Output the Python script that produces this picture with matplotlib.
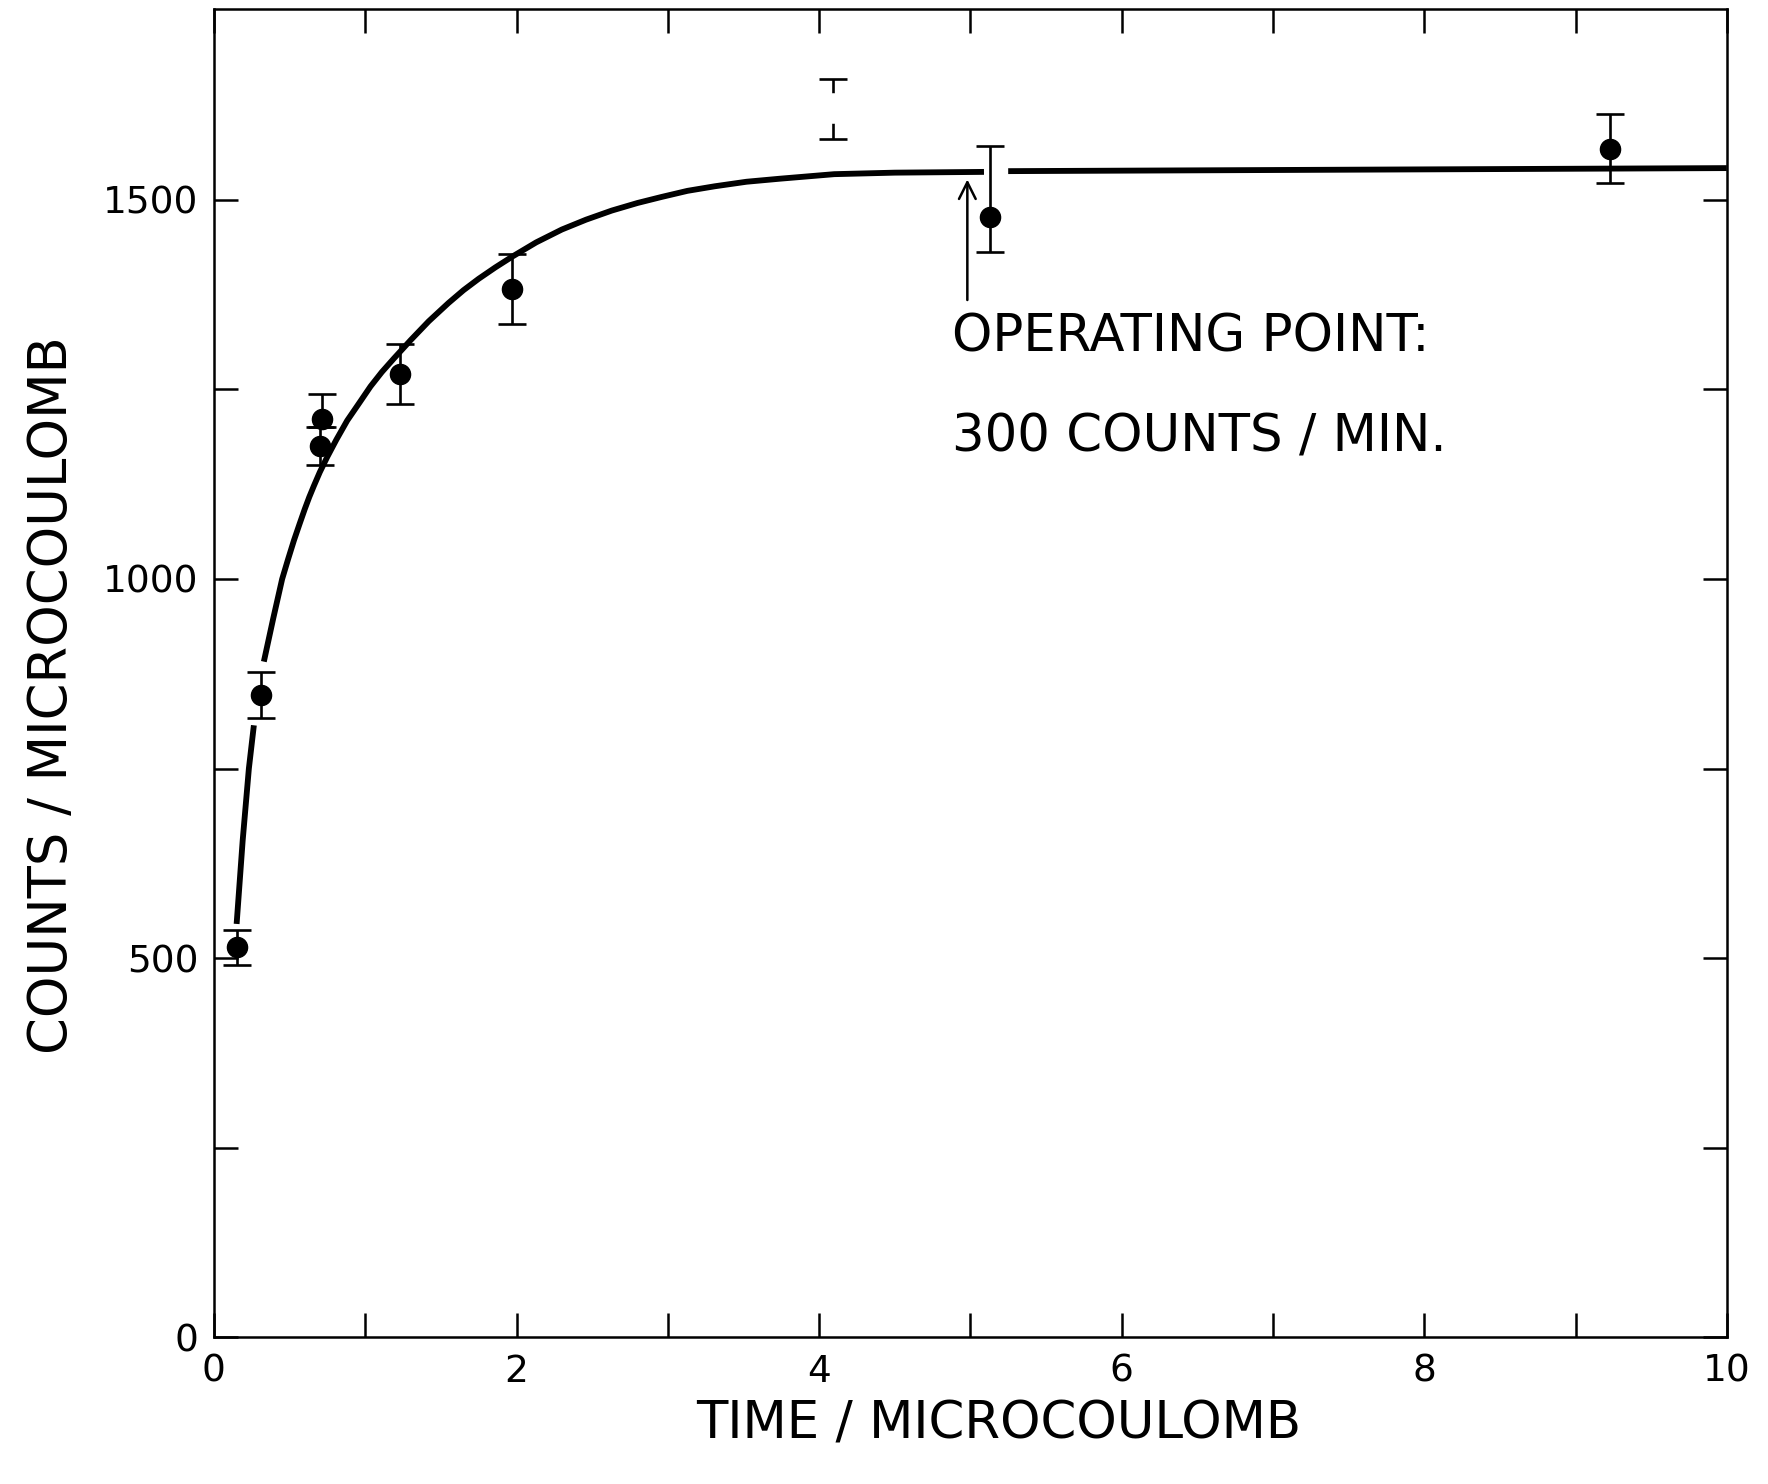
import numpy as np
import matplotlib
matplotlib.use("Agg")
import matplotlib.pyplot as plt

# ---- data ----
pt_x = [0.15, 0.31, 0.715, 0.70, 1.23, 1.97, 5.13, 9.23]
pt_y = [515, 847, 1211, 1176, 1270, 1382, 1477, 1567]
pt_lo = [491, 816, 1200, 1150, 1231, 1336, 1431, 1523]
pt_hi = [537, 877, 1244, 1200, 1310, 1429, 1571, 1614]

# error bar whose dot is missing in the print
nd_x = [4.09]
nd_y = [1621]
nd_lo = [1580]
nd_hi = [1660]

curve_x = [0.15, 0.19, 0.231, 0.264, np.nan, 0.33, 0.392, 0.451, 0.49, 0.529, 0.565,
           0.60, 0.63, 0.661, 0.70, 0.749, 0.81, 0.881, 0.96, 1.035, 1.11, 1.19,
           1.30, 1.42, 1.55, 1.65, 1.75, 1.86, 1.97, 2.13, 2.30, 2.46, 2.63,
           2.80, 2.96, 3.13, 3.31, 3.52, 3.74, 3.92, 4.10, 4.50, 5.09,
           np.nan, 5.25, 10.0]
curve_y = [545, 655, 750, 807, np.nan, 891, 948, 1000, 1026, 1051, 1072,
           1092, 1108, 1123, 1141, 1161, 1184, 1209, 1232, 1254, 1273, 1291,
           1315, 1340, 1364, 1381, 1396, 1411, 1425, 1444, 1461, 1474, 1486,
           1496, 1504, 1512, 1518, 1524, 1528, 1531, 1534, 1536, 1537,
           np.nan, 1538, 1542]

x_ticks = list(range(0, 11))
x_labels = ["0", "", "2", "", "4", "", "6", "", "8", "", "10"]
y_ticks = [0, 250, 500, 750, 1000, 1250, 1500]
y_labels = ["0", "", "500", "", "1000", "", "1500"]

arrow_x = 4.98
arrow_from = 1368
arrow_to = 1527

# ---- figure ----
plt.rcParams['font.family'] = ['DejaVu Sans']
fig = plt.figure(figsize=(17.68, 14.84), dpi=100)
ax = fig.add_axes([0.121, 0.099, 0.8557, 0.895])

ax.plot(curve_x, curve_y, color='black', lw=4.2, solid_capstyle='butt',
        solid_joinstyle='round', zorder=2)

yerr = [np.array(pt_y) - np.array(pt_lo), np.array(pt_hi) - np.array(pt_y)]
ax.errorbar(pt_x, pt_y, yerr=yerr, fmt='o', color='black', ms=14.5,
            elinewidth=1.9, capsize=10, capthick=1.9, zorder=3)

nd_err = [np.array(nd_y) - np.array(nd_lo), np.array(nd_hi) - np.array(nd_y)]
ax.errorbar(nd_x, nd_y, yerr=nd_err, fmt='none', ecolor='black',
            elinewidth=1.9, capsize=10, capthick=1.9, zorder=3)
ax.plot(nd_x, nd_y, 'o', ms=21, mfc='white', mec='white', zorder=4)

ax.annotate("", xy=(arrow_x, arrow_to), xytext=(arrow_x, arrow_from),
            arrowprops=dict(arrowstyle='->', lw=1.8, color='black',
                            mutation_scale=30, shrinkA=0, shrinkB=0))
ax.text(4.88, 1319, "OPERATING POINT:", fontsize=37, va='center', ha='left')
ax.text(4.88, 1187, "300 COUNTS / MIN.", fontsize=37, va='center', ha='left')

ax.set_xlim(0, 10)
ax.set_ylim(0, 1752)
ax.set_xticks(x_ticks)
ax.set_xticklabels(x_labels)
ax.set_yticks(y_ticks)
ax.set_yticklabels(y_labels)
ax.tick_params(direction='in', length=17, width=1.8, labelsize=27,
               top=True, right=True)
ax.tick_params(axis='x', pad=12)
ax.tick_params(axis='y', pad=11)

for s in ax.spines.values():
    s.set_linewidth(1.8)

ax.text(-0.107, 0.483, "COUNTS / MICROCOULOMB", rotation=90, fontsize=38,
        ha='center', va='center', transform=ax.transAxes)
ax.text(0.519, -0.066, "TIME / MICROCOULOMB", fontsize=37,
        ha='center', va='center', transform=ax.transAxes)

fig.savefig("out.png", dpi=100)
